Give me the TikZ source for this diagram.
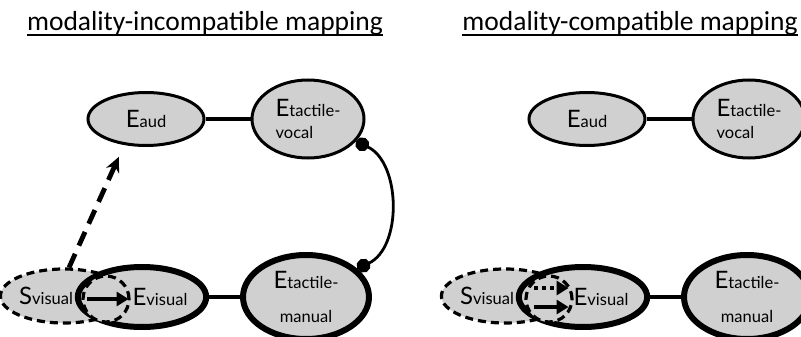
\documentclass[tikz,border=0pt]{standalone}
\usepackage{fontspec}
\setmainfont{Carlito}
\newfontfamily\statefont{Lato}
\usetikzlibrary{shapes.geometric,positioning,arrows.meta}

\definecolor{stategray}{RGB}{208,208,208}

% big initial letter of a state label
\newcommand{\initial}[1]{{\fontsize{24}{24}\selectfont #1}}

\begin{document}
\begin{tikzpicture}[x=1pt,y=1pt,
  state/.style={ellipse, draw, fill=stategray, line width=3pt, inner sep=0pt,
    font=\statefont\fontsize{16.5}{22}\selectfont},
  strong/.style={state, line width=6pt},
  stim/.style={state, dash pattern=on 8pt off 5pt, line width=3.2pt},
  overlap/.style={circle, draw, fill=stategray, dash pattern=on 8pt off 5pt,
    line width=3.2pt, minimum size=46pt, inner sep=0pt},
  wire/.style={draw=black, line width=3.4pt},
  map/.style={-{Triangle[length=12pt,width=14pt]}, line width=4.8pt},
  heading/.style={font=\fontsize{27.5}{30}\selectfont, inner sep=0pt, anchor=base},
  ]
\path[use as bounding box, clip] (0,0) rectangle (801,-337);

% ---- left: modality-incompatible ----
\node[heading] (t1) at (205,-31) {modality-incompatible mapping};
\draw[line width=1.6pt] ([yshift=-4pt]t1.base west) -- ([yshift=-4pt]t1.base east);

\node[state, minimum width=116pt, minimum height=53pt] (aud) at (146,-119) {\initial{E}aud};
\node[state, minimum width=112pt, minimum height=78pt, align=left] (tvoc) at (308,-119)
  {\initial{E}tactile-\\vocal};
\node[stim, minimum width=110pt, minimum height=54pt] (svis) at (64,-296)
  {\initial{S}visual\hspace*{36pt}};
\node[strong, minimum width=116pt, minimum height=60pt] (evis) at (142,-297)
  {\hspace*{36pt}\initial{E}visual};
\node[strong, minimum width=126pt, minimum height=84pt, align=center] (tman) at (306,-297)
  {\initial{E}tactile-\\[12pt]manual};
\node[overlap] (ovl) at (106,-299) {};

\draw[wire] (aud) -- (tvoc);
\draw[wire] (evis) -- (tman);
\draw[map, shorten <=6pt, shorten >=2pt] (ovl.west) -- (ovl.east);
\draw[-{Stealth[length=15pt,width=14pt]}, line width=4.8pt, dash pattern=on 15pt off 9pt,
  shorten >=13pt] (svis.80) -- (aud.230);
% the dots sit just outside both borders
\draw[line width=2.8pt, {Circle[length=14pt]}-{Circle[length=14pt]}]
  (tvoc.-25) to[out=-25, in=25] (tman.29);

% ---- right: modality-compatible ----
\node[heading] (t2) at (630,-31) {modality-compatible mapping};
\draw[line width=1.6pt] ([yshift=-4pt]t2.base west) -- ([yshift=-4pt]t2.base east);

\node[state, minimum width=116pt, minimum height=53pt] (aud2) at (587,-119) {\initial{E}aud};
\node[state, minimum width=112pt, minimum height=78pt, align=left] (tvoc2) at (749,-119)
  {\initial{E}tactile-\\vocal};
\node[stim, minimum width=110pt, minimum height=54pt] (svis2) at (505,-296)
  {\initial{S}visual\hspace*{36pt}};
\node[strong, minimum width=116pt, minimum height=60pt] (evis2) at (583,-297)
  {\hspace*{36pt}\initial{E}visual};
\node[strong, minimum width=126pt, minimum height=84pt, align=center] (tman2) at (747,-297)
  {\initial{E}tactile-\\[12pt]manual};
\node[overlap] (ovl2) at (549,-299) {};

\draw[wire, line width=4.2pt] (aud2) -- (tvoc2);
\draw[wire] (evis2) -- (tman2);
\draw[map, dash pattern=on 4pt off 4pt, shorten <=10pt, shorten >=5pt]
  ([yshift=11pt]ovl2.west) -- ([yshift=11pt]ovl2.east);
\draw[map, shorten <=10pt, shorten >=5pt]
  ([yshift=-8pt]ovl2.west) -- ([yshift=-8pt]ovl2.east);
\end{tikzpicture}
\end{document}
